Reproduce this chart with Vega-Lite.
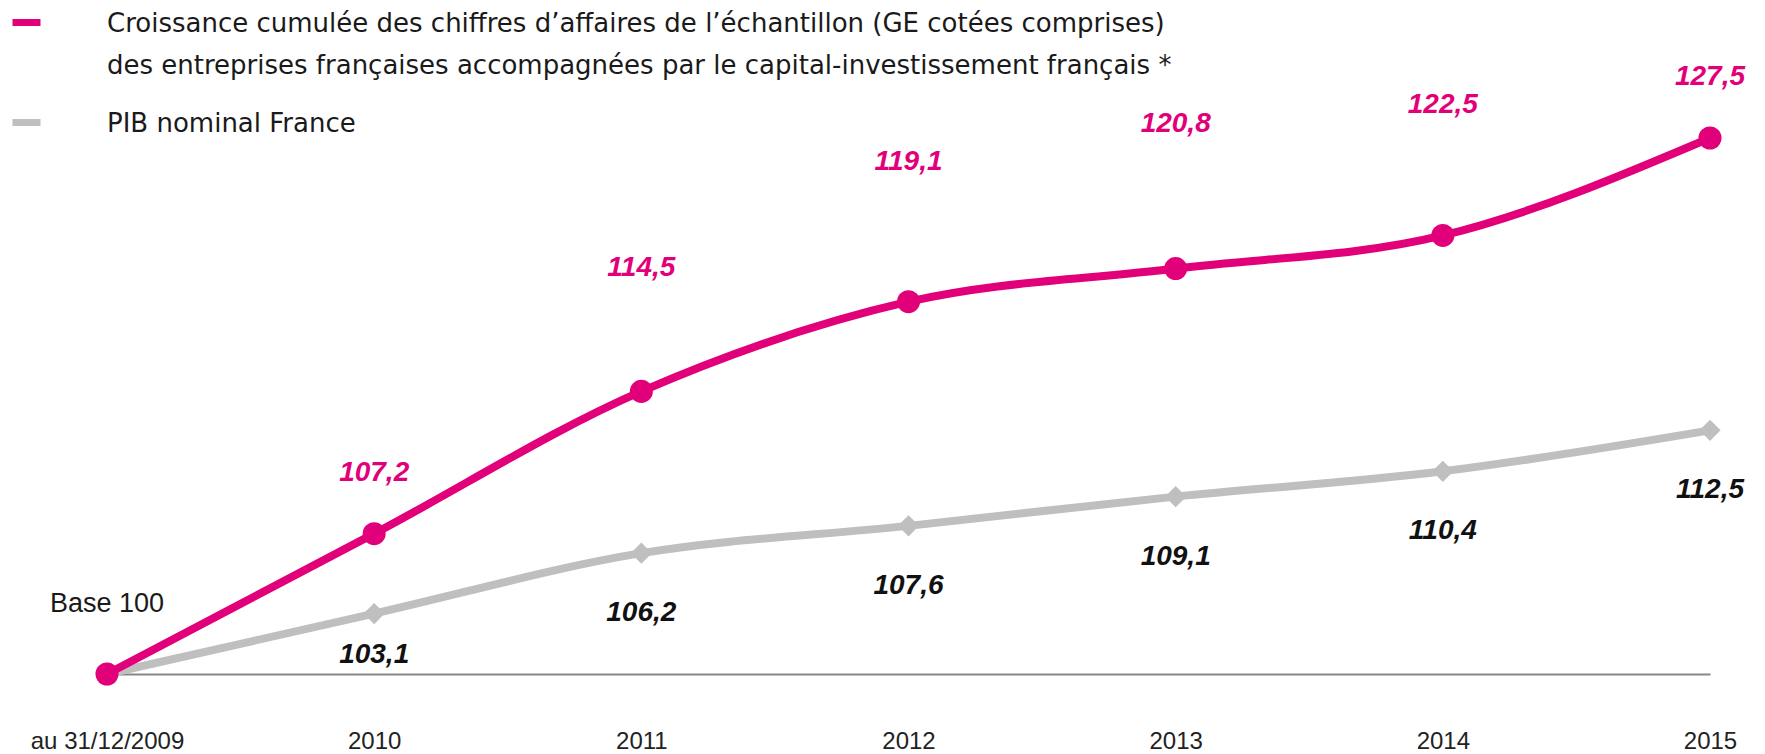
{
  "$schema": "https://vega.github.io/schema/vega-lite/v6.json",
  "width": 1603,
  "height": 536,
  "autosize": {"type": "none"},
  "padding": {"left": 107, "top": 138, "right": 55, "bottom": 80},
  "background": "white",
  "config": {
    "view": {"stroke": null},
    "font": "Liberation Sans",
    "locale": {"number": {"decimal": ",", "thousands": "\u00a0", "grouping": [3], "currency": ["", "\u00a0€"]}}
  },
  "data": {
    "values": [
      {"period": "au 31/12/2009", "series": "CA", "value": 100},
      {"period": "2010", "series": "CA", "value": 107.2},
      {"period": "2011", "series": "CA", "value": 114.5},
      {"period": "2012", "series": "CA", "value": 119.1},
      {"period": "2013", "series": "CA", "value": 120.8},
      {"period": "2014", "series": "CA", "value": 122.5},
      {"period": "2015", "series": "CA", "value": 127.5},
      {"period": "au 31/12/2009", "series": "PIB", "value": 100},
      {"period": "2010", "series": "PIB", "value": 103.1},
      {"period": "2011", "series": "PIB", "value": 106.2},
      {"period": "2012", "series": "PIB", "value": 107.6},
      {"period": "2013", "series": "PIB", "value": 109.1},
      {"period": "2014", "series": "PIB", "value": 110.4},
      {"period": "2015", "series": "PIB", "value": 112.5}
    ]
  },
  "encoding": {
    "x": {
      "field": "period",
      "type": "ordinal",
      "sort": null,
      "scale": {"type": "point", "padding": 0},
      "axis": {
        "title": null,
        "labelAngle": 0,
        "ticks": false,
        "grid": false,
        "domainColor": "#878787",
        "domainWidth": 2,
        "labelFont": "Liberation Sans",
        "labelFontSize": 24,
        "labelColor": "#222222",
        "labelPadding": 74,
        "labelBaseline": "alphabetic",
        "labelLimit": 300,
        "labelOverlap": false,
        "labelFlush": false
      }
    },
    "y": {
      "field": "value",
      "type": "quantitative",
      "scale": {"domain": [100, 127.5], "nice": false, "zero": false},
      "axis": null
    }
  },
  "layer": [
    {
      "transform": [{"filter": "datum.series == 'PIB'"}],
      "mark": {"type": "line", "interpolate": "monotone", "strokeWidth": 8},
      "encoding": {
        "color": {
          "field": "series",
          "type": "nominal",
          "scale": {"domain": ["CA", "PIB"], "range": ["#E2007A", "#BFBFBF"]},
          "legend": {
            "orient": "none",
            "legendX": -98,
            "legendY": -133,
            "title": null,
            "symbolType": "stroke",
            "symbolSize": 784,
            "symbolStrokeWidth": 7,
            "labelOffset": 63,
            "labelFont": "DejaVu Sans",
            "labelFontSize": 26,
            "labelColor": "#1a1a1a",
            "labelLimit": 1400,
            "labelBaseline": "alphabetic",
            "rowPadding": 26,
            "labelExpr": "datum.value == 'CA' ? ['Croissance cumulée des chiffres d’affaires de l’échantillon (GE cotées comprises)', 'des entreprises françaises accompagnées par le capital-investissement français *'] : 'PIB nominal France'",
            "encode": {"labels": {"update": {"dy": {"value": 9}, "lineHeight": {"value": 42}}}}
          }
        }
      }
    },
    {
      "transform": [{"filter": "datum.series == 'PIB'"}],
      "mark": {"type": "point", "shape": "diamond", "filled": true, "color": "#BFBFBF", "opacity": 1, "size": 450}
    },
    {
      "transform": [{"filter": "datum.series == 'CA'"}],
      "mark": {"type": "line", "interpolate": "monotone", "strokeWidth": 8},
      "encoding": {"color": {"field": "series", "type": "nominal"}}
    },
    {
      "transform": [{"filter": "datum.series == 'CA'"}],
      "mark": {"type": "point", "shape": "circle", "filled": true, "color": "#E2007A", "opacity": 1, "size": 530}
    },
    {
      "transform": [{"filter": "datum.series == 'CA' && datum.period == 'au 31/12/2009'"}],
      "mark": {"type": "text", "text": "Base 100", "dy": -70, "fontSize": 27, "font": "Liberation Sans", "color": "#1a1a1a", "baseline": "middle", "align": "center"}
    },
    {
      "transform": [{"filter": "datum.series == 'CA' && (datum.period == '2010' || datum.period == '2015')"}],
      "mark": {"type": "text", "dy": -61, "fontSize": 28, "fontWeight": "bold", "fontStyle": "italic", "color": "#E2007A", "baseline": "middle", "align": "center"},
      "encoding": {"text": {"field": "value", "type": "quantitative", "format": ".1f"}}
    },
    {
      "transform": [{"filter": "datum.series == 'CA' && datum.period == '2011'"}],
      "mark": {"type": "text", "dy": -123, "fontSize": 28, "fontWeight": "bold", "fontStyle": "italic", "color": "#E2007A", "baseline": "middle", "align": "center"},
      "encoding": {"text": {"field": "value", "type": "quantitative", "format": ".1f"}}
    },
    {
      "transform": [{"filter": "datum.series == 'CA' && datum.period == '2012'"}],
      "mark": {"type": "text", "dy": -140, "fontSize": 28, "fontWeight": "bold", "fontStyle": "italic", "color": "#E2007A", "baseline": "middle", "align": "center"},
      "encoding": {"text": {"field": "value", "type": "quantitative", "format": ".1f"}}
    },
    {
      "transform": [{"filter": "datum.series == 'CA' && datum.period == '2013'"}],
      "mark": {"type": "text", "dy": -145, "fontSize": 28, "fontWeight": "bold", "fontStyle": "italic", "color": "#E2007A", "baseline": "middle", "align": "center"},
      "encoding": {"text": {"field": "value", "type": "quantitative", "format": ".1f"}}
    },
    {
      "transform": [{"filter": "datum.series == 'CA' && datum.period == '2014'"}],
      "mark": {"type": "text", "dy": -130, "fontSize": 28, "fontWeight": "bold", "fontStyle": "italic", "color": "#E2007A", "baseline": "middle", "align": "center"},
      "encoding": {"text": {"field": "value", "type": "quantitative", "format": ".1f"}}
    },
    {
      "transform": [{"filter": "datum.series == 'PIB' && datum.period == '2010'"}],
      "mark": {"type": "text", "dy": 41, "fontSize": 28, "fontWeight": "bold", "fontStyle": "italic", "color": "#111111", "baseline": "middle", "align": "center"},
      "encoding": {"text": {"field": "value", "type": "quantitative", "format": ".1f"}}
    },
    {
      "transform": [{"filter": "datum.series == 'PIB' && datum.period != '2010' && datum.period != 'au 31/12/2009'"}],
      "mark": {"type": "text", "dy": 60, "fontSize": 28, "fontWeight": "bold", "fontStyle": "italic", "color": "#111111", "baseline": "middle", "align": "center"},
      "encoding": {"text": {"field": "value", "type": "quantitative", "format": ".1f"}}
    }
  ]
}
